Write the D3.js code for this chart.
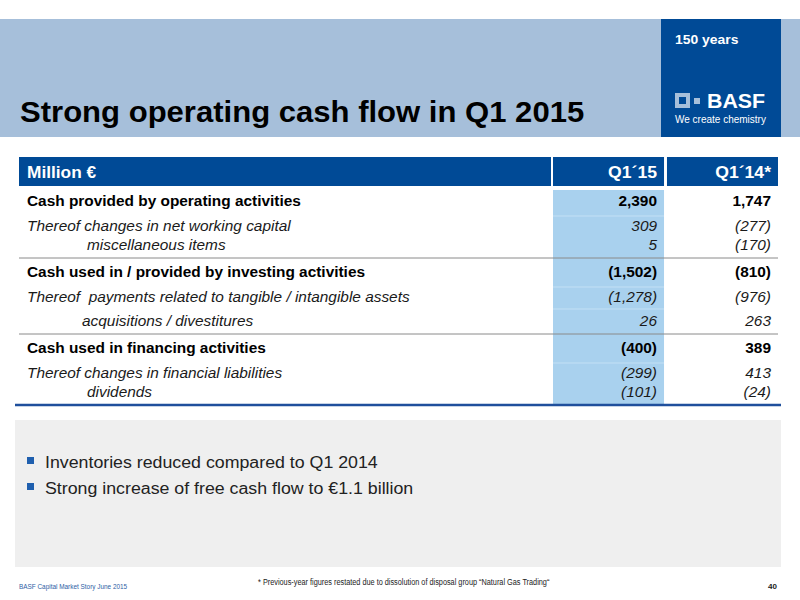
<!DOCTYPE html>
<html>
<head>
<meta charset="utf-8">
<script src="https://cdn.jsdelivr.net/npm/d3@7"></script>
<style>
  body { margin: 0; background: #fff; }
  svg { font-family: "Liberation Sans", Arial, sans-serif; display: block; }
  .pre { white-space: pre; }
</style>
</head>
<body>
<script>
// Table content
var headerLabel = "Million €";
var columns     = ["Q1´15", "Q1´14*"];
var rowLabels   = [
  "Cash provided by operating activities",
  "Thereof changes in net working capital",
  "miscellaneous items",
  "Cash used in / provided by investing activities",
  "Thereof  payments related to tangible / intangible assets",
  "acquisitions / divestitures",
  "Cash used in financing activities",
  "Thereof changes in financial liabilities",
  "dividends"
];
// total = bold row, thereof = first italic row, line = 2nd line of same cell, cell = own cell
var rowKinds = ["total", "thereof", "line", "total", "thereof", "cell", "total", "thereof", "line"];
var q115     = [2390, 309, 5, -1502, -1278, 26, -400, -299, -101];
var q114     = [1747, -277, -170, -810, -976, 263, 389, 413, -24];
var bullets  = [
  "Inventories reduced compared to Q1 2014",
  "Strong increase of free cash flow to €1.1 billion"
];
var title    = "Strong operating cash flow in Q1 2015";
var footLeft = "BASF Capital Market Story June 2015";
var footNote = "* Previous-year figures restated due to dissolution of disposal group \u201CNatural Gas Trading\u201C";
var pageNo   = "40";

var W = 800, H = 600;
var blue = "#004a96", lightBand = "#a6bfda", highlight = "#a9d1ee";

var svg = d3.select("body").append("svg").attr("width", W).attr("height", H);

// stretch text horizontally (slide was rendered a bit wider than the font)
function stretch(sel, k){
  sel.each(function(){
    var len = this.getComputedTextLength();
    d3.select(this).attr("textLength", len * k).attr("lengthAdjust", "spacingAndGlyphs");
  });
  return sel;
}

// Title band
svg.append("rect").attr("x", 0).attr("y", 19).attr("width", W).attr("height", 118).attr("fill", lightBand);
svg.append("rect").attr("x", 661).attr("y", 19).attr("width", 120).attr("height", 118).attr("fill", blue);
stretch(svg.append("text").attr("x", 20).attr("y", 122).attr("font-size", 30).attr("font-weight", "bold")
  .attr("fill", "#000").text(title), 1.035);

// Logo
stretch(svg.append("text").attr("x", 675).attr("y", 44).attr("font-size", 13.5).attr("font-weight", "bold")
  .attr("fill", "#fff").text("150 years"), 1.03);
svg.append("rect").attr("x", 675).attr("y", 93).attr("width", 15).attr("height", 15).attr("fill", "#a6bfda");
svg.append("rect").attr("x", 679).attr("y", 97).attr("width", 7).attr("height", 7).attr("fill", blue);
svg.append("rect").attr("x", 694).attr("y", 98).attr("width", 6).attr("height", 6).attr("fill", "#a6bfda");
stretch(svg.append("text").attr("x", 707).attr("y", 108).attr("font-size", 20.5).attr("font-weight", "bold")
  .attr("fill", "#fff").text("BASF"), 1.04);
stretch(svg.append("text").attr("x", 675).attr("y", 123).attr("font-size", 10)
  .attr("fill", "#fff").text("We create chemistry"), 1.0);

// Table geometry
var tableLeft = 19, tableRight = 778, headTop = 157, headH = 29;
var col = d3.scaleBand().domain(columns).range([553, tableRight]).paddingInner(0.026);
var pad = 7;

// Row baselines built from row kinds
var rowY = [], sepY = [], cellY = [], y = headTop + headH + 1;
rowKinds.forEach(function(k, i){
  if(k === "total"){
    if(i > 0){ y += 8; sepY.push(y); }
    y += 19;
    cellY.push(y + 10);
  } else if(k === "thereof"){
    y += 25;
  } else if(k === "cell"){
    cellY.push(y + 7);
    y += 24;
  } else {
    y += 19;
  }
  rowY.push(y);
});
var tableBottom = y + 8;

// Highlight column
svg.append("rect").attr("x", col(columns[0])).attr("y", headTop + headH + 4)
  .attr("width", col.bandwidth()).attr("height", tableBottom - headTop - headH - 4).attr("fill", highlight);
svg.selectAll("line.cell").data(cellY).join("line").attr("class", "cell")
  .attr("x1", col(columns[0])).attr("x2", col(columns[0]) + col.bandwidth())
  .attr("y1", function(d){ return d; }).attr("y2", function(d){ return d; })
  .attr("stroke", "#c3e0f5").attr("stroke-width", 1);

// Header
svg.append("rect").attr("x", tableLeft).attr("y", headTop).attr("width", col(columns[0]) - 2 - tableLeft)
  .attr("height", headH).attr("fill", blue);
svg.selectAll("rect.head").data(columns).join("rect").attr("class", "head")
  .attr("x", function(d){ return col(d); }).attr("y", headTop)
  .attr("width", col.bandwidth()).attr("height", headH).attr("fill", blue);
stretch(svg.append("text").attr("x", 27).attr("y", headTop + 21).attr("font-size", 16).attr("font-weight", "bold")
  .attr("fill", "#fff").text(headerLabel), 1.08);
stretch(svg.selectAll("text.head").data(columns).join("text").attr("class", "head")
  .attr("x", function(d){ return col(d) + col.bandwidth() - pad; }).attr("y", headTop + 21)
  .attr("text-anchor", "end").attr("font-size", 16).attr("font-weight", "bold")
  .attr("fill", "#fff").text(function(d){ return d; }), 1.1);

// Separators
svg.selectAll("line.sep").data(sepY).join("line").attr("class", "sep")
  .attr("x1", tableLeft).attr("x2", tableRight).attr("y1", function(d){ return d; }).attr("y2", function(d){ return d; })
  .attr("stroke", "#8a8a8a").attr("stroke-width", 1);
svg.append("line").attr("x1", 15).attr("x2", 781).attr("y1", tableBottom).attr("y2", tableBottom)
  .attr("stroke", "#1f4f9c").attr("stroke-width", 2.5);

// Rows
var fmt = d3.format(",");
function money(v){ return v < 0 ? "(" + fmt(-v) + ")" : fmt(v); }
var indent = { total: 27, thereof: 27, line: 87, cell: 82 };

var rows = rowLabels.map(function(l, i){
  return { label: l, kind: rowKinds[i], y: rowY[i], values: [q115[i], q114[i]] };
});
var g = svg.selectAll("g.row").data(rows).join("g").attr("class", "row")
  .attr("font-size", 14)
  .attr("font-weight", function(d){ return d.kind === "total" ? "bold" : "normal"; })
  .attr("font-style", function(d){ return d.kind === "total" ? "normal" : "italic"; })
  .attr("fill", function(d){ return d.kind === "total" ? "#000" : "#1a1a1a"; });
stretch(g.append("text").attr("class", "pre")
  .attr("x", function(d){ return indent[d.kind]; }).attr("y", function(d){ return d.y; })
  .text(function(d){ return d.label; }), 1.1);
stretch(g.selectAll("text.val").data(function(d){
    return d.values.map(function(v, j){ return { v: v, c: columns[j], y: d.y }; });
  }).join("text").attr("class", "val")
  .attr("x", function(d){ return col(d.c) + col.bandwidth() - pad; }).attr("y", function(d){ return d.y; })
  .attr("text-anchor", "end").text(function(d){ return money(d.v); }), 1.1);

// Bullet box
svg.append("rect").attr("x", 15).attr("y", 420).attr("width", 766).attr("height", 147).attr("fill", "#efefef");
var b = svg.selectAll("g.bullet").data(bullets).join("g").attr("class", "bullet")
  .attr("transform", function(d, i){ return "translate(0," + (468 + i * 26) + ")"; });
b.append("rect").attr("x", 27).attr("y", -11).attr("width", 7).attr("height", 7).attr("fill", "#1f5fae");
stretch(b.append("text").attr("x", 45).attr("y", 0).attr("font-size", 16).attr("fill", "#222")
  .text(function(d){ return d; }), 1.11);

// Footer
stretch(svg.append("text").attr("x", 19).attr("y", 589).attr("font-size", 8).attr("fill", "#2d5ea5")
  .text(footLeft), 0.8);
stretch(svg.append("text").attr("x", 258).attr("y", 585).attr("font-size", 8.5).attr("fill", "#222")
  .text(footNote), 0.86);
svg.append("text").attr("x", 777).attr("y", 589).attr("text-anchor", "end").attr("font-size", 8)
  .attr("font-weight", "bold").attr("fill", "#222").text(pageNo);
</script>
</body>
</html>
